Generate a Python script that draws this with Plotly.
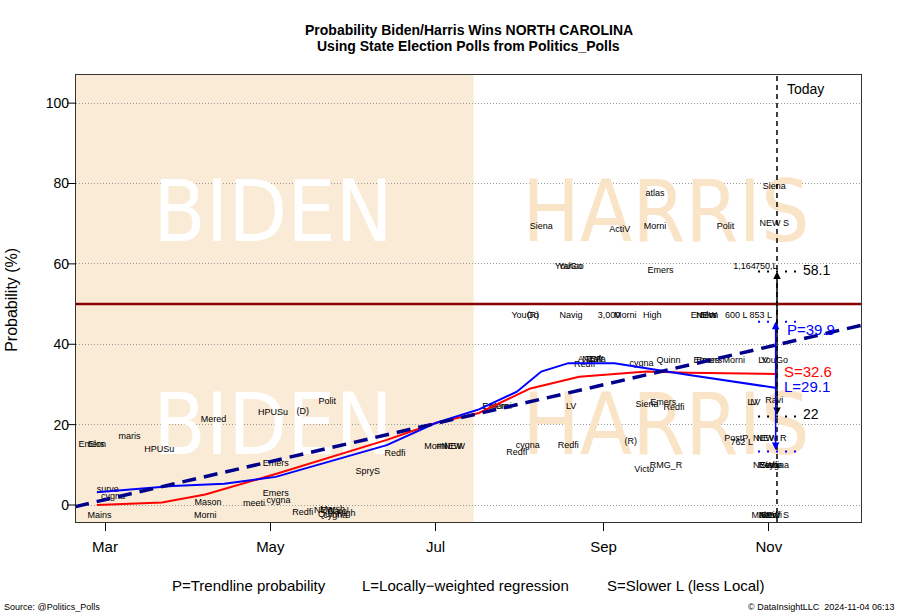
import plotly.graph_objects as go

# ---------------- data ----------------
L_dates = ["2024-02-27", "2024-03-26", "2024-04-14", "2024-05-03", "2024-06-13", "2024-07-01",
           "2024-07-17", "2024-07-31", "2024-08-09", "2024-08-19", "2024-09-05", "2024-09-21",
           "2024-10-02", "2024-11-04"]
L_vals = [3.2, 4.7, 5.3, 7.0, 14.9, 20.4, 23.8, 28.2, 33.2, 35.3, 35.3, 33.6, 32.4, 29.1]

S_dates = ["2024-02-27", "2024-03-22", "2024-04-07", "2024-05-03", "2024-06-13", "2024-07-01",
           "2024-07-17", "2024-08-05", "2024-08-23", "2024-09-17", "2024-10-02", "2024-11-04"]
S_vals = [0.0, 0.6, 2.6, 7.7, 16.2, 20.4, 22.9, 29.0, 31.9, 33.2, 32.9, 32.6]

P_dates = ["2024-02-19", "2024-12-05"]
P_vals = [-0.4, 44.7]

today = "2024-11-04"
biden_end = "2024-07-15"
x_range = ["2024-02-19 07:00", "2024-12-05 00:00"]

P_now, S_now, L_now = 39.9, 32.6, 29.1
hi_black, lo_black = 58.1, 22
hi_blue, lo_blue = 45.6, 13.3

tick_dates = ["2024-03-01", "2024-05-01", "2024-07-01", "2024-09-01", "2024-11-01"]
tick_text = ["Mar", "May", "Jul", "Sep", "Nov"]
y_ticks = [0, 20, 40, 60, 80, 100]

poll_names = ["Emers", "Elon", "maris", "HPUSu", "Mered", "HPUSu", "(D)", "Polit", "surve", "cygna",
              "Mains", "Mason", "Morni", "meeti", "Emers", "Emers", "cygna", "Redfi",
              "NEW", "Quinn", "Marsh", "cygna", "Carol", "High",
              "SpryS", "Redfi", "Morni", "#NEW", "NEW",
              "Emers", "Morni", "LV", "cygna", "Redfi", "Redfi", "(R)", "Victo", "RMG_R",
              "Siena", "YouGo", "Yahoo", "ActiV", "Morni", "atlas", "Polit", "NEW S", "Siena", "Emers",
              "1,164", "750,L",
              "YouGo", "(R)", "Navig", "3,000", "Morni", "High", "Emers", "NEW", "Elon", "600 L", "853 L",
              "AARP", "NEW", "Trafa", "Redfi", "cygna", "Quinn", "Emers", "Emers", "Morni", "LV", "YouGo",
              "Siena", "Emers", "Redfi", "LV", "LV", "Ravi",
              "PostP", "762 L", "NEW", "NEW R",
              "NEW", "Redfi", "Siena", "cygna",
              "Mains", "Nativ", "Redfi", "NEW S"]
poll_dates = ["2024-02-25", "2024-02-27", "2024-03-10", "2024-03-21", "2024-04-10", "2024-05-02", "2024-05-13",
              "2024-05-22", "2024-03-02", "2024-03-04",
              "2024-02-28", "2024-04-08", "2024-04-07", "2024-04-25", "2024-05-03", "2024-05-03", "2024-05-04",
              "2024-05-13",
              "2024-05-21", "2024-05-23", "2024-05-24", "2024-05-25", "2024-05-26", "2024-05-29",
              "2024-06-06", "2024-06-16", "2024-07-01", "2024-07-06", "2024-07-08",
              "2024-07-23", "2024-07-25", "2024-08-20", "2024-08-04", "2024-07-31", "2024-08-19", "2024-09-11",
              "2024-09-16", "2024-09-24",
              "2024-08-09", "2024-08-19", "2024-08-20", "2024-09-07", "2024-09-20", "2024-09-20", "2024-10-16",
              "2024-11-03", "2024-11-03", "2024-09-22",
              "2024-10-23", "2024-10-31",
              "2024-08-03", "2024-08-06", "2024-08-20", "2024-09-03", "2024-09-09", "2024-09-19", "2024-10-08",
              "2024-10-09", "2024-10-10", "2024-10-20", "2024-10-29",
              "2024-08-27", "2024-08-28", "2024-08-29", "2024-08-25", "2024-09-15", "2024-09-25", "2024-10-09",
              "2024-10-10", "2024-10-19", "2024-10-30", "2024-11-03",
              "2024-09-17", "2024-09-23", "2024-09-27", "2024-10-26", "2024-10-27", "2024-11-03",
              "2024-10-20", "2024-10-22", "2024-10-30", "2024-11-02",
              "2024-10-30", "2024-11-01", "2024-11-02", "2024-11-04",
              "2024-10-30", "2024-11-01", "2024-11-02", "2024-11-03"]
poll_vals = [14.9, 14.9, 16.9, 13.7, 21.2, 22.9, 23.2, 25.6, 3.7, 2.0,
             -2.7, 0.5, -2.7, 0.2, 10.2, 2.7, 1.0, -2.0,
             -1.5, -2.4, -1.2, -2.6, -1.8, -2.3,
             8.2, 12.7, 14.4, 14.4, 14.4,
             24.4, 24.4, 24.4, 14.7, 13.0, 14.7, 15.8, 8.7, 9.7,
             69.3, 59.2, 59.4, 68.5, 69.3, 77.4, 69.3, 69.9, 79.1, 58.3,
             59.2, 59.2,
             47.1, 47.1, 47.1, 47.1, 47.1, 47.1, 47.1, 47.1, 47.1, 47.1, 47.1,
             36.1, 36.1, 36.1, 34.9, 35.1, 35.8, 35.8, 35.8, 35.8, 35.8, 35.9,
             24.9, 25.4, 24.1, 25.5, 25.5, 25.9,
             16.4, 15.6, 16.4, 16.4,
             9.7, 9.7, 9.7, 9.7,
             -2.7, -2.7, -2.7, -2.7]

big_words = ["BIDEN", "BIDEN", "HARRIS", "HARRIS"]
big_dates = ["2024-05-02", "2024-05-02", "2024-09-24", "2024-09-24"]
big_vals = [71.0, 18.0, 71.0, 18.0]
big_colors = ["white", "white", "rgb(250,228,200)", "rgb(250,228,200)"]

# ---------------- figure ----------------
FONT = "Liberation Sans, Arial, sans-serif"
fig = go.Figure()

fig.add_trace(go.Scatter(x=big_dates, y=big_vals, text=big_words, mode="text",
                         textposition="middle center", hoverinfo="skip",
                         textfont=dict(size=85, color=big_colors,
                                       family="DejaVu Sans Condensed, Liberation Sans")))

fig.add_trace(go.Scatter(x=poll_dates, y=poll_vals, text=poll_names, mode="text",
                         textposition="middle center",
                         textfont=dict(size=9, color="black", family=FONT)))

fig.add_trace(go.Scatter(x=x_range, y=[50, 50], mode="lines",
                         line=dict(color="#8B0000", width=2.5), hoverinfo="skip"))

fig.add_trace(go.Scatter(x=S_dates, y=S_vals, mode="lines", name="S",
                         line=dict(color="#FF0000", width=2)))
fig.add_trace(go.Scatter(x=L_dates, y=L_vals, mode="lines", name="L",
                         line=dict(color="#0000FF", width=2)))
fig.add_trace(go.Scatter(x=P_dates, y=P_vals, mode="lines", name="P",
                         line=dict(color="#00008B", width=3.5, dash="14px,8px")))

seg = ["2024-10-28", "2024-11-11"]
for v, c in [(hi_black, "black"), (lo_black, "black"), (hi_blue, "#0000FF"), (lo_blue, "#0000FF")]:
    fig.add_trace(go.Scatter(x=seg, y=[v, v], mode="lines", hoverinfo="skip",
                             line=dict(color=c, width=2, dash="2px,7px")))

fig.add_shape(type="line", x0=today, x1=today, y0=0, y1=1, xref="x", yref="paper",
              line=dict(color="black", width=1.5, dash="5px,4px"))
fig.add_shape(type="rect", x0=x_range[0], x1=biden_end, y0=0, y1=1, xref="x", yref="paper",
              fillcolor="#FAEBD7", line=dict(width=0), layer="below")

# y-axis tick marks (R style: long ticks, labels close to them)
for v in y_ticks:
    fig.add_shape(type="line", xref="paper", yref="y", x0=-9 / 785, x1=0, y0=v, y1=v,
                  line=dict(color="black", width=1))

fig.add_annotation(x=today, y=hi_black, ax=today, ay=lo_black, axref="x", ayref="y", xref="x", yref="y",
                   text="", showarrow=True, arrowside="end+start", arrowhead=2, arrowsize=1,
                   arrowwidth=1.5, arrowcolor="black")
fig.add_annotation(x="2024-11-03 12:00", y=hi_blue, ax="2024-11-03 12:00", ay=lo_blue, axref="x", ayref="y",
                   xref="x", yref="y", text="", showarrow=True, arrowside="end+start", arrowhead=2,
                   arrowsize=1, arrowwidth=1.5, arrowcolor="#0000FF")

def txt(x, y, s, color="black", size=14, xanchor="left", xref="x", yref="y", **kw):
    fig.add_annotation(x=x, y=y, text=s, xref=xref, yref=yref, xanchor=xanchor, yanchor="middle",
                       showarrow=False, font=dict(color=color, size=size, family=FONT), **kw)

txt("2024-11-07", 43.6, f"P={P_now}", "#0000FF", 15)
txt("2024-11-06", 33.1, f"S={S_now}", "#FF0000", 15)
txt("2024-11-06", 29.6, f"L={L_now}", "#0000FF", 15)
txt("2024-11-13", 58.5, f"{hi_black}", "black", 14)
txt("2024-11-13", 22.7, f"{lo_black}", "black", 14)
txt("2024-11-07", 103.6, "Today", "black", 14)

txt(0.5, 1.1007, "<b>Probability Biden/Harris Wins NORTH CAROLINA</b>", size=14, xanchor="center",
    xref="paper", yref="paper")
txt(0.5, 1.0649, "<b>Using State Election Polls from Politics_Polls</b>", size=14, xanchor="center",
    xref="paper", yref="paper")
txt(-0.0815, 0.497, "Probability (%)", size=16, xanchor="center", xref="paper", yref="paper", textangle=-90)
txt(0.220, -0.141, "P=Trendline probability", size=15, xanchor="center", xref="paper", yref="paper")
txt(0.496, -0.141, "L=Locally\u2212weighted regression", size=15, xanchor="center", xref="paper", yref="paper")
txt(0.776, -0.141, "S=Slower L (less Local)", size=15, xanchor="center", xref="paper", yref="paper")
txt(-0.0943, -0.190, "Source: @Politics_Polls", size=9, xanchor="left", xref="paper", yref="paper")
txt(1.046, -0.190, "\u00a9 DataInsightLLC  2024-11-04 06:13", size=9, xanchor="right", xref="paper", yref="paper")

fig.update_layout(
    width=900, height=615, showlegend=False,
    margin=dict(l=76, r=39, t=75, b=93),
    paper_bgcolor="white", plot_bgcolor="white",
    font=dict(family=FONT, color="black"),
    xaxis=dict(type="date", range=x_range, tickvals=tick_dates, ticktext=tick_text,
               ticks="outside", ticklen=8, tickcolor="black", showgrid=False, zeroline=False,
               showline=True, mirror=True, linecolor="#333", linewidth=1.2,
               tickfont=dict(size=15), ticklabelstandoff=3),
    yaxis=dict(range=[-4.23, 107.0], tickvals=y_ticks, ticks="outside", ticklen=3,
               tickcolor="rgba(0,0,0,0)",
               showgrid=True, gridcolor="#999", griddash="1px,2px", gridwidth=1, zeroline=False,
               showline=True, mirror=True, linecolor="#333", linewidth=1.2,
               tickfont=dict(size=14)),
)

fig.write_html("out.html", config={"displayModeBar": False},
               post_script="document.body.style.margin='0';document.body.style.overflow='hidden';")
